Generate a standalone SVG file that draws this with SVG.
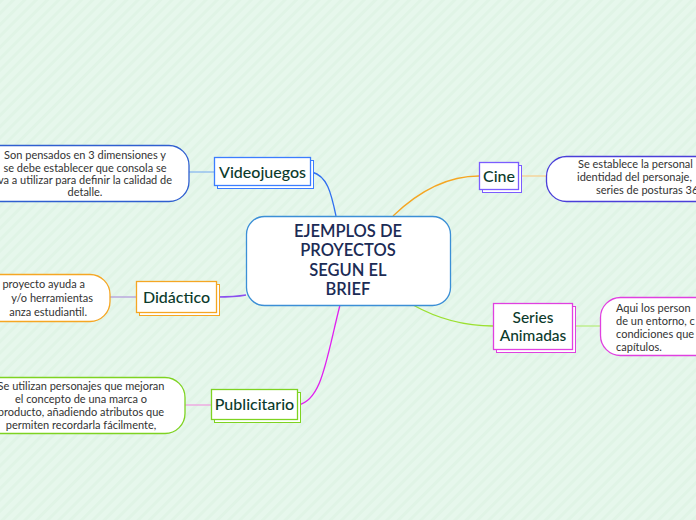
<svg xmlns="http://www.w3.org/2000/svg" width="696" height="520" viewBox="0 0 696 520">
<defs>
<pattern id="bg" width="8" height="8" patternUnits="userSpaceOnUse" patternTransform="rotate(45)">
<rect width="8" height="8" fill="#e6f7ec"/>
<rect width="3" height="8" fill="#e0f4e6"/>
</pattern>
<style>
.t{font-family:Lato,"Open Sans","Noto Sans",sans-serif;text-anchor:middle}
.main{font-size:16.5px;fill:#1b2b55;font-weight:600}
.node{font-size:16px;fill:#0c3b2c;font-weight:500}
.desc{font-size:11px;fill:#333}
.box{fill:#fff;stroke-width:1.3}
.sh{fill:#fff;stroke-width:1}
.c{fill:none;stroke-width:1.3}
</style>
</defs>
<rect width="696" height="520" fill="url(#bg)"/>
<g id="connectors">
<path class="c" stroke="#2f6ff0" d="M336,216 C331,192 327,176 312,172"/>
<path class="c" stroke="#f5a623" d="M393,216 C420,190 450,176 479,176"/>
<path class="c" stroke="#8a4fef" d="M246,295 C235,297 225,297 216,297"/>
<path class="c" stroke="#e020f0" d="M340,305 C326,360 322,400 298,405"/>
<path class="c" stroke="#9be030" d="M413,305 C440,320 465,326 493,326"/>
<path class="c" stroke="#8ab8f0" d="M189,172 L214,172"/>
<path class="c" stroke="#b39ddb" d="M110,297 L136,297"/>
<path class="c" stroke="#f0a0e0" d="M185,405 L211,405"/>
<path class="c" stroke="#f8d090" d="M519,176 L546,176"/>
<path class="c" stroke="#b8ec80" d="M573,326 L600,326"/>
</g>
<g id="central">
<rect class="box" x="246.5" y="216.5" width="204" height="89" rx="18" stroke="#3b8fd6"/>
<text class="t main" x="348" y="237">EJEMPLOS DE</text>
<text class="t main" x="348" y="256">PROYECTOS</text>
<text class="t main" x="348" y="276">SEGUN EL</text>
<text class="t main" x="348" y="295">BRIEF</text>
</g>
<g id="videojuegos">
<rect class="sh" x="217.5" y="160.5" width="96" height="28" stroke="#3b7dff"/>
<rect class="box" x="214.5" y="157.5" width="96" height="28" stroke="#3b7dff"/>
<text class="t node" x="262.5" y="178">Videojuegos</text>
</g>
<g id="videojuegos-desc">
<rect class="box" x="-20" y="145.5" width="209" height="56" rx="20" stroke="#2f5fd0"/>
<text class="t desc" x="85" y="159">Son pensados en 3 dimensiones y</text>
<text class="t desc" x="85" y="172">se debe establecer que consola se</text>
<text class="t desc" x="85" y="184">va a utilizar para definir la calidad de</text>
<text class="t desc" x="85" y="196">detalle.</text>
</g>
<g id="didactico">
<rect class="sh" x="139.5" y="284.5" width="80" height="31" stroke="#f5a623"/>
<rect class="box" x="136.5" y="281.5" width="80" height="31" stroke="#f5a623"/>
<text class="t node" x="176.5" y="303">Didáctico</text>
</g>
<g id="didactico-desc">
<rect class="box" x="-30" y="274.5" width="140" height="47" rx="20" stroke="#f5a623"/>
<text class="t desc" x="85" y="288" style="text-anchor:end">proyecto ayuda a</text>
<text class="t desc" x="93" y="302" style="text-anchor:end">y/o herramientas</text>
<text class="t desc" x="87" y="316" style="text-anchor:end">anza estudiantil.</text>
</g>
<g id="publicitario">
<rect class="sh" x="214.5" y="392.5" width="86" height="30" stroke="#7ed321"/>
<rect class="box" x="211.5" y="389.5" width="86" height="30" stroke="#7ed321"/>
<text class="t node" x="254.5" y="410">Publicitario</text>
</g>
<g id="publicitario-desc">
<rect class="box" x="-24" y="377.5" width="209" height="56" rx="20" stroke="#7ed321"/>
<text class="t desc" x="81" y="390">Se utilizan personajes que mejoran</text>
<text class="t desc" x="81" y="403">el concepto de una marca o</text>
<text class="t desc" x="81" y="416">producto, añadiendo atributos que</text>
<text class="t desc" x="81" y="429">permiten recordarla fácilmente,</text>
</g>
<g id="cine">
<rect class="sh" x="482.5" y="165.5" width="39" height="27" stroke="#7b5cff"/>
<rect class="box" x="479.5" y="162.5" width="39" height="27" stroke="#7b5cff"/>
<text class="t node" x="499" y="182">Cine</text>
</g>
<g id="cine-desc">
<rect class="box" x="546.5" y="156.5" width="180" height="45" rx="20" stroke="#4a3fd9"/>
<text class="t desc" x="578" y="168" style="text-anchor:start">Se establece la personal</text>
<text class="t desc" x="577" y="181" style="text-anchor:start">identidad del personaje,</text>
<text class="t desc" x="596" y="194" style="text-anchor:start">series de posturas 36</text>
</g>
<g id="series">
<rect class="sh" x="496.5" y="306.5" width="79" height="46" stroke="#e040e0"/>
<rect class="box" x="493.5" y="303.5" width="79" height="46" stroke="#e040e0"/>
<text class="t node" x="533" y="323" style="font-size:15.5px">Series</text>
<text class="t node" x="533" y="341" style="font-size:15.5px">Animadas</text>
</g>
<g id="series-desc">
<rect class="box" x="600.5" y="297.5" width="130" height="58" rx="20" stroke="#e040e0"/>
<text class="t desc" x="616" y="312" style="text-anchor:start">Aqui los person</text>
<text class="t desc" x="616" y="325" style="text-anchor:start">de un entorno, c</text>
<text class="t desc" x="616" y="338" style="text-anchor:start">condiciones que</text>
<text class="t desc" x="616" y="351" style="text-anchor:start">capítulos.</text>
</g>
</svg>
